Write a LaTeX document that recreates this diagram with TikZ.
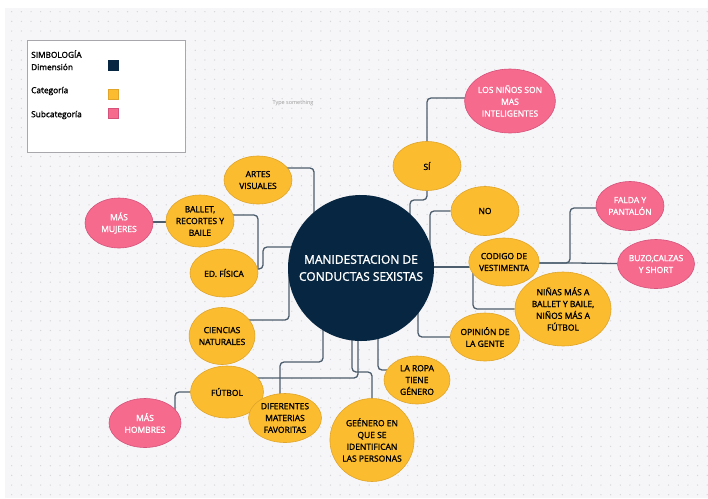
\documentclass[tikz,border=0pt]{standalone}
\usepackage{fontspec}
\setmainfont{Open Sans}
\newfontface\semib[FakeBold=1.6]{Open Sans}
\usetikzlibrary{shapes.geometric,calc}
\pgfdeclarelayer{bg}
\pgfdeclarelayer{conns}
\pgfsetlayers{bg,conns,main}
\definecolor{navy}{HTML}{072641}
\definecolor{catfill}{HTML}{FBBC30}
\definecolor{catborder}{HTML}{E0A52A}
\definecolor{subfill}{HTML}{F66A8E}
\definecolor{subborder}{HTML}{D5527A}
\definecolor{conncol}{HTML}{4C5D6D}
\definecolor{canvas}{HTML}{F6F6F8}
\definecolor{dotcol}{HTML}{D6D6DB}
\definecolor{legborder}{HTML}{A8A8AC}
\begin{document}
\begin{tikzpicture}[x=1pt,y=-1pt,
  cat/.style={ellipse, draw=catborder, fill=catfill, line width=0.6pt, inner sep=0pt, align=center, font=\semib\fontsize{8.5}{11.8}\selectfont, text=black},
  sub/.style={ellipse, draw=subborder, fill=subfill, line width=0.6pt, inner sep=0pt, align=center, font=\semib\fontsize{8.5}{11.8}\selectfont, text=white},
  conn/.style={draw=conncol, line width=1.3pt, rounded corners=4pt},
  legtext/.style={anchor=west, inner sep=0pt, font=\semib\fontsize{8.3}{10}\selectfont},
  legsq/.style={minimum size=10pt, inner sep=0pt, line width=0.5pt}]
\useasboundingbox (0,0) rectangle (708,498);
\begin{pgfonlayer}{bg}
  \fill[white] (0,0) rectangle (708,498);
  \fill[canvas] (5,8) rectangle (708,498);
  \foreach \i in {0,...,72}{
    \foreach \j in {0,...,50}{
      \fill[dotcol] (11.7+\i*9.66, 11.7+\j*9.66) circle (0.7);
    }
  }
\end{pgfonlayer}

% legend
\node[draw=legborder, fill=white, line width=0.8pt, minimum width=158pt, minimum height=112pt, anchor=north west, inner sep=0pt] (legend) at (27,40) {};
\node[legtext] (lsimb) at (31,54) {SIMBOLOGÍA};
\node[legtext] (ldim) at (31,67) {Dimensión};
\node[legtext] (lcat) at (31,91) {Categoría};
\node[legtext] (lsub) at (31,115) {Subcategoría};
\node[legsq, fill=navy, draw=navy] (sqdim) at (113,65) {};
\node[legsq, fill=catfill, draw=catborder] (sqcat) at (113,94) {};
\node[legsq, fill=subfill, draw=subborder] (sqsub) at (113,113) {};
\node[font=\fontsize{5.5}{7}\selectfont, text=gray!80, inner sep=0pt] (type) at (293,103) {Type something};

% center
\node[circle, fill=navy, minimum size=146pt, inner sep=0pt, align=center, text=white, font=\semib\fontsize{12}{17}\selectfont] (center) at (361,268) {MANIDESTACION DE\\CONDUCTAS SEXISTAS};

% categories
\node[cat, minimum width=68pt, minimum height=48pt] (artes) at (258,180) {ARTES\\VISUALES};
\node[cat, minimum width=68pt, minimum height=52pt] (ballet) at (200,221) {BALLET,\\RECORTES Y\\BAILE};
\node[cat, minimum width=68pt, minimum height=48pt] (edfisica) at (224,273) {ED. FÍSICA};
\node[cat, minimum width=63pt, minimum height=57pt] (ciencias) at (222,336) {CIENCIAS\\NATURALES};
\node[cat, minimum width=73pt, minimum height=52pt] (futbol) at (227,392) {FÚTBOL};
\node[cat, minimum width=73pt, minimum height=49pt] (diferentes) at (285,418) {DIFERENTES\\MATERIAS\\FAVORITAS};
\node[cat, minimum width=82pt, minimum height=83pt] (genero) at (372,440) {GEÉNERO EN\\QUE SE\\IDENTIFICAN\\LAS PERSONAS};
\node[cat, minimum width=66pt, minimum height=48pt] (laropa) at (417,380) {LA ROPA\\TIENE\\GÉNERO};
\node[cat, minimum width=68pt, minimum height=48pt] (opinion) at (485,337) {OPINIÓN DE\\LA GENTE};
\node[cat, minimum width=96pt, minimum height=74pt] (ninas) at (563,309) {NIÑAS MÁS A\\BALLET Y BAILE,\\NIÑOS MÁS A\\FÚTBOL};
\node[cat, minimum width=68pt, minimum height=48pt] (codigo) at (504,262) {CODIGO DE\\VESTIMENTA};
\node[cat, minimum width=68pt, minimum height=49pt] (no) at (485,211) {NO};
\node[cat, minimum width=68pt, minimum height=49pt] (si) at (427,166) {SÍ};

% subcategories
\node[sub, minimum width=87pt, minimum height=64pt] (ninos) at (510,101) {LOS NIÑOS SON\\MAS\\INTELIGENTES};
\node[sub, minimum width=68pt, minimum height=49pt] (falda) at (630,206) {FALDA Y\\PANTALÓN};
\node[sub, minimum width=73pt, minimum height=49pt] (buzo) at (656,264) {BUZO,CALZAS\\Y SHORT};
\node[sub, minimum width=68pt, minimum height=50pt] (mujeres) at (119,223) {MÁS\\MUJERES};
\node[sub, minimum width=72pt, minimum height=49pt] (hombres) at (145,423) {MÁS\\HOMBRES};

% connectors
\begin{pgfonlayer}{conns}
  \draw[conn] ($(artes)+(0,-12)$) -| ($(center)+(-47,0)$);
  \draw[conn] ($(ballet)+(0,-6)$) -| ($(edfisica)+(34,-4)$);
  \draw[conn] ($(edfisica)+(0,-4)$) -- ($(edfisica)+(39,-4)$) |- ($(center)+(0,-21)$);
  \draw[conn] ($(mujeres)+(0,-1)$) -- ($(ballet)+(0,1)$);
  \draw[conn] ($(ciencias)+(0,-16)$) -| ($(center)+(-72,0)$);
  \draw[conn] ($(futbol)+(0,-14)$) -| ($(center)+(-3,0)$);
  \draw[conn] (futbol) -| ($(hombres)+(30,0)$);
  \draw[conn] ($(diferentes)+(-5,0)$) |- ($(center)+(-38,94)$) -- ($(center)+(-38,0)$);
  \draw[conn] (genero) |- ($(center)+(-9,104)$) -- ($(center)+(-9,0)$);
  \draw[conn] ($(laropa)+(0,-10)$) -| ($(center)+(17,0)$);
  \draw[conn] (opinion) -| ($(center)+(57,0)$);
  \draw[conn] ($(codigo)+(0,5)$) -- ($(center)+(0,-1)$);
  \draw[conn] ($(codigo)+(-31,5)$) |- (ninas);
  \draw[conn] ($(codigo)+(0,1)$) -- ($(codigo)+(66,1)$) |- ($(falda)+(0,2)$);
  \draw[conn] ($(codigo)+(0,1)$) -- ($(codigo)+(70,1)$) -- (buzo);
  \draw[conn] (no) -| ($(center)+(69,0)$);
  \draw[conn] (si) -- ($(si)+(0,34)$) -| ($(center)+(49,0)$);
  \draw[conn] (si) |- ($(ninos)+(0,-3)$);
\end{pgfonlayer}
\end{tikzpicture}
\end{document}
